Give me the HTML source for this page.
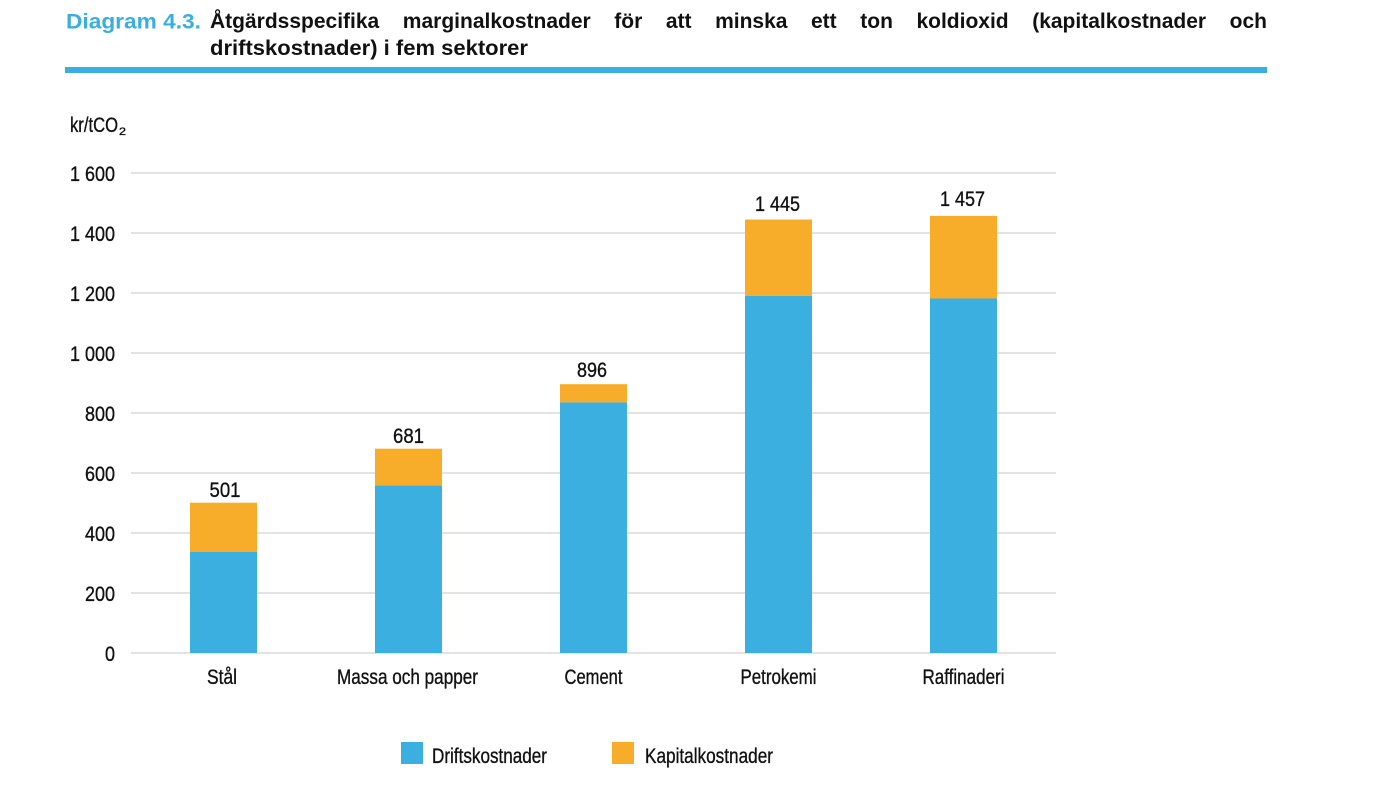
<!DOCTYPE html>
<html><head><meta charset="utf-8"><style>
html,body{margin:0;padding:0;background:#fff;}
body{width:1400px;height:800px;position:relative;overflow:hidden;font-family:"Liberation Sans",sans-serif;}
.l1{position:absolute;left:210px;top:11px;width:1057px;font-size:21px;line-height:21px;font-weight:bold;color:#111;text-align:justify;text-align-last:justify;}
.bar{position:absolute;left:65px;top:67px;width:1202px;height:6px;background:#3aaee0;}
svg{position:absolute;left:0;top:0;}
</style></head><body>
<div class="l1">Åtgärdsspecifika marginalkostnader för att minska ett ton koldioxid (kapitalkostnader och</div>
<div class="bar"></div>
<svg width="1400" height="800" xmlns="http://www.w3.org/2000/svg" font-family="'Liberation Sans Narrow','Liberation Sans',sans-serif" fill="#111">
<text x="66" y="28.5" font-family="'Liberation Sans',sans-serif" font-weight="bold" font-size="21" fill="#3aaee0" textLength="135" lengthAdjust="spacingAndGlyphs">Diagram 4.3.</text>
<text x="210" y="55" font-family="'Liberation Sans',sans-serif" font-weight="bold" font-size="21" fill="#111" textLength="318" lengthAdjust="spacingAndGlyphs">driftskostnader) i fem sektorer</text>
<g stroke="#d2d2d2" stroke-width="1.3">
<line x1="131" x2="1056" y1="173" y2="173"/>
<line x1="131" x2="1056" y1="233" y2="233"/>
<line x1="131" x2="1056" y1="293" y2="293"/>
<line x1="131" x2="1056" y1="353" y2="353"/>
<line x1="131" x2="1056" y1="413" y2="413"/>
<line x1="131" x2="1056" y1="473" y2="473"/>
<line x1="131" x2="1056" y1="533" y2="533"/>
<line x1="131" x2="1056" y1="593" y2="593"/>
<line x1="131" x2="1056" y1="653" y2="653"/>
</g>
<g stroke="#111" stroke-width="0.35">
<text x="70" y="132" font-size="21" textLength="48" lengthAdjust="spacingAndGlyphs">kr/tCO</text>
<text x="119" y="135" font-size="11" textLength="7" lengthAdjust="spacingAndGlyphs">2</text>
<g font-size="21" text-anchor="end">
<text x="115" y="181" textLength="45" lengthAdjust="spacingAndGlyphs">1 600</text>
<text x="115" y="241" textLength="45" lengthAdjust="spacingAndGlyphs">1 400</text>
<text x="115" y="301" textLength="45" lengthAdjust="spacingAndGlyphs">1 200</text>
<text x="115" y="361" textLength="45" lengthAdjust="spacingAndGlyphs">1 000</text>
<text x="115" y="421" textLength="30" lengthAdjust="spacingAndGlyphs">800</text>
<text x="115" y="481" textLength="30" lengthAdjust="spacingAndGlyphs">600</text>
<text x="115" y="541" textLength="30" lengthAdjust="spacingAndGlyphs">400</text>
<text x="115" y="601" textLength="30" lengthAdjust="spacingAndGlyphs">200</text>
<text x="115" y="661" textLength="10" lengthAdjust="spacingAndGlyphs">0</text>
</g>
</g>
<g>
<rect x="190" y="552" width="67" height="101" fill="#3aafe0"/>
<rect x="190" y="502.7" width="67" height="49.3" fill="#f8ad2a"/>
<rect x="375" y="485.3" width="67" height="167.7" fill="#3aafe0"/>
<rect x="375" y="448.7" width="67" height="36.6" fill="#f8ad2a"/>
<rect x="560" y="402.3" width="67" height="250.7" fill="#3aafe0"/>
<rect x="560" y="384.2" width="67" height="18.1" fill="#f8ad2a"/>
<rect x="745" y="295.7" width="67" height="357.3" fill="#3aafe0"/>
<rect x="745" y="219.5" width="67" height="76.2" fill="#f8ad2a"/>
<rect x="930" y="298.5" width="67" height="354.5" fill="#3aafe0"/>
<rect x="930" y="215.9" width="67" height="82.6" fill="#f8ad2a"/>
</g>
<g font-size="21" text-anchor="middle" stroke="#111" stroke-width="0.35">
<text x="225" y="497" textLength="31" lengthAdjust="spacingAndGlyphs">501</text>
<text x="408.5" y="443" textLength="31" lengthAdjust="spacingAndGlyphs">681</text>
<text x="592" y="377" textLength="30" lengthAdjust="spacingAndGlyphs">896</text>
<text x="777.5" y="211" textLength="45" lengthAdjust="spacingAndGlyphs">1 445</text>
<text x="962.5" y="206" textLength="45" lengthAdjust="spacingAndGlyphs">1 457</text>
</g>
<g font-size="21" text-anchor="middle" stroke="#111" stroke-width="0.35">
<text x="222" y="684" textLength="30" lengthAdjust="spacingAndGlyphs">Stål</text>
<text x="407.5" y="684" textLength="141" lengthAdjust="spacingAndGlyphs">Massa och papper</text>
<text x="593.5" y="684" textLength="58" lengthAdjust="spacingAndGlyphs">Cement</text>
<text x="778.5" y="684" textLength="76" lengthAdjust="spacingAndGlyphs">Petrokemi</text>
<text x="963.5" y="684" textLength="82" lengthAdjust="spacingAndGlyphs">Raffinaderi</text>
</g>
<rect x="401" y="742" width="22" height="22" fill="#3aafe0"/>
<text x="432" y="763" font-size="21" stroke="#111" stroke-width="0.35" textLength="115" lengthAdjust="spacingAndGlyphs">Driftskostnader</text>
<rect x="612" y="742" width="22" height="22" fill="#f8ad2a"/>
<text x="645" y="763" font-size="21" stroke="#111" stroke-width="0.35" textLength="128" lengthAdjust="spacingAndGlyphs">Kapitalkostnader</text>
</svg>
</body></html>
